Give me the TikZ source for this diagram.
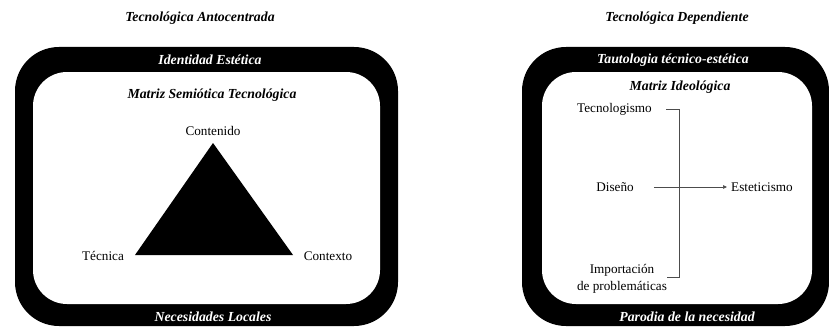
\documentclass[tikz,border=0pt]{standalone}
\usepackage{fontspec}
\setmainfont{Liberation Serif}
\usetikzlibrary{arrows.meta}
\begin{document}
\begin{tikzpicture}[x=1pt,y=-1pt,
  title/.style={font=\fontsize{13.8}{15}\selectfont\bfseries\itshape, inner sep=0pt},
  band/.style={font=\fontsize{13.8}{15}\selectfont\bfseries\itshape, text=white, inner sep=0pt},
  lbl/.style={font=\fontsize{13.2}{15}\selectfont, inner sep=0pt},
  outerframe/.style={fill=black, rounded corners=44pt},
  innerframe/.style={fill=white, rounded corners=34pt},
  conn/.style={draw=black!70, line width=0.7pt}]
\useasboundingbox (0,0) rectangle (829,329);
% left frame
\fill[outerframe] (15,47) rectangle (398,326);
\fill[innerframe] (33,72) rectangle (380,304);
% right frame
\fill[outerframe] (522,47) rectangle (829,326);
\fill[innerframe] (542,72) rectangle (812,304);
% titles
\node[title] (t1) at (200,18) {Tecnológica Antocentrada};
\node[title] (t2) at (677,18) {Tecnológica Dependiente};
\node[band] (b1) at (210,60) {Identidad Estética};
\node[band] (b2) at (673,60) {Tautologia técnico-estética};
\node[band] (b3) at (213,317) {Necesidades Locales};
\node[band] (b4) at (687,317) {Parodia de la necesidad};
\node[title] (m1) at (212,95) {Matriz Semiótica Tecnológica};
\node[title] (m2) at (680,87) {Matriz Ideológica};
% triangle
\coordinate (apex) at (213,143);
\coordinate (bl) at (135,255);
\coordinate (br) at (293,255);
\fill[black] (apex) -- (bl) -- (br) -- cycle;
\node[lbl] (cont) at (213,131) {Contenido};
\node[lbl] (tec) at (103,256) {Técnica};
\node[lbl] (ctx) at (328,256) {Contexto};
% right diagram
\node[lbl, anchor=east] (tgm) at (652,109) {Tecnologismo};
\node[lbl] (dis) at (615,187) {Diseño};
\node[lbl, anchor=west] (est) at (731,187) {Esteticismo};
\node[lbl, align=center, font=\fontsize{13.2}{16.5}\selectfont] (imp) at (622,279) {Importación\\de problemáticas};
\coordinate (k1) at (666,109);
\coordinate (k2) at (679,109);
\coordinate (k3) at (679,277);
\coordinate (k4) at (667,277);
\draw[conn] (k1) -- (k2) -- (k3) -- (k4);
\draw[conn, -{Triangle[length=4pt,width=3.5pt]}] ([xshift=20pt]dis.east) -- ([xshift=-4pt]est.west);
\end{tikzpicture}
\end{document}
